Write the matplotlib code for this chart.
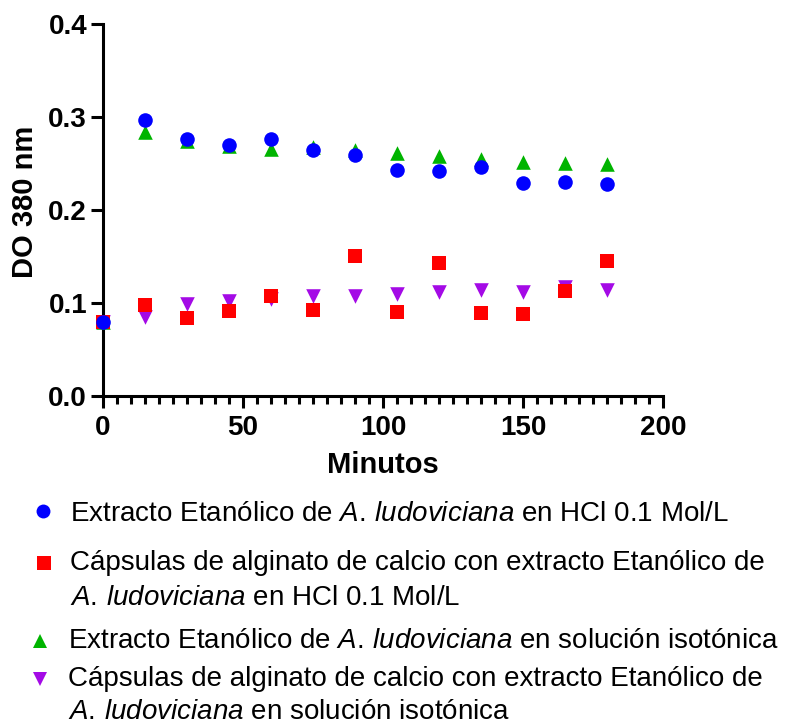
import matplotlib
matplotlib.use("Agg")
import matplotlib.pyplot as plt
from matplotlib.lines import Line2D
from matplotlib.ticker import MultipleLocator, FormatStrFormatter

plt.rcParams['font.family'] = ['Liberation Sans', 'DejaVu Sans']
plt.rcParams['mathtext.fontset'] = 'custom'
plt.rcParams['mathtext.rm'] = 'Liberation Sans'
plt.rcParams['mathtext.it'] = 'Liberation Sans:italic'

# minutes
minutos = [0, 15, 30, 45, 60, 75, 90, 105, 120, 135, 150, 165, 180]

# DO 380 nm
extracto_hcl = [0.080, 0.297, 0.276, 0.270, 0.276, 0.264, 0.259, 0.243, 0.242, 0.246, 0.229, 0.230, 0.228]
capsulas_hcl = [0.080, 0.098, 0.084, 0.091, 0.107, 0.092, 0.151, 0.090, 0.143, 0.089, 0.088, 0.113, 0.145]
extracto_iso = [0.080, 0.284, 0.274, 0.269, 0.266, 0.268, 0.265, 0.261, 0.258, 0.255, 0.252, 0.250, 0.249]
capsulas_iso = [0.080, 0.085, 0.099, 0.102, 0.104, 0.107, 0.107, 0.110, 0.112, 0.114, 0.112, 0.117, 0.114]

# legend text, one list of lines per series
sp = r'$\mathit{A.\,ludoviciana}$'
leyenda = [
    ['Extracto Etanólico de ' + sp + ' en HCl 0.1 Mol/L'],
    ['Cápsulas de alginato de calcio con extracto Etanólico de',
     sp + ' en HCl 0.1 Mol/L'],
    ['Extracto Etanólico de ' + sp + ' en solución isotónica'],
    ['Cápsulas de alginato de calcio con extracto Etanólico de',
     sp + ' en solución isotónica'],
]

azul, rojo, verde, morado = '#0000ff', '#ff0000', '#00b400', '#a40ae6'

W, H = 787, 726
fig = plt.figure(figsize=(W / 100, H / 100), dpi=100)
ax = fig.add_axes([103 / W, 1 - 396 / H, 560 / W, 372 / H])

ax.scatter(minutos, extracto_iso, marker='^', s=110, color=verde, linewidths=0, clip_on=False, zorder=3)
ax.scatter(minutos, capsulas_iso, marker='v', s=110, color=morado, linewidths=0, clip_on=False, zorder=3)
ax.scatter(minutos, capsulas_hcl, marker='s', s=100, color=rojo, linewidths=0, clip_on=False, zorder=4)
ax.scatter(minutos, extracto_hcl, marker='o', s=110, color=azul, linewidths=0, clip_on=False, zorder=5)

ax.set_xlim(0, 200)
ax.set_ylim(0, 0.4)
ax.xaxis.set_major_locator(MultipleLocator(50))
ax.xaxis.set_minor_locator(MultipleLocator(5))
ax.yaxis.set_major_locator(MultipleLocator(0.1))
ax.yaxis.set_major_formatter(FormatStrFormatter('%.1f'))

for s in ['top', 'right']:
    ax.spines[s].set_visible(False)
for s in ['left', 'bottom']:
    ax.spines[s].set_linewidth(2.2)
ax.tick_params(axis='both', which='major', length=8.5, width=2.2, labelsize=20, pad=3)
ax.tick_params(axis='x', which='major', pad=5)
ax.tick_params(axis='x', which='minor', length=5.5, width=2.2)
for lab in ax.get_xticklabels() + ax.get_yticklabels():
    lab.set_fontweight('bold')

ax.set_xlabel('Minutos', fontsize=21, fontweight='bold')
ax.set_ylabel('DO 380 nm', fontsize=21, fontweight='bold')
ax.xaxis.set_label_coords(0.5, -0.148)
ax.yaxis.set_label_coords(-0.114, 0.523)

# legend drawn by hand so the marker sits on the first line
simbolos = [('o', azul), ('s', rojo), ('^', verde), ('v', morado)]
marca_xy = [(43, 511), (44, 563), (40, 641), (40, 679)]
lineas_y = [[521], [570, 605], [648], [686, 719]]
texto_x = [70, 70, 68, 68]
for (m, c), (mx, my), ys, tx, lineas in zip(simbolos, marca_xy, lineas_y, texto_x, leyenda):
    fig.add_artist(Line2D([mx / W], [1 - my / H], transform=fig.transFigure, marker=m,
                          markersize=10, color=c, markeredgewidth=0, linestyle='none'))
    for y, t in zip(ys, lineas):
        fig.text(tx / W, 1 - y / H, t, fontsize=20, va='baseline', ha='left')

fig.savefig('out.png', dpi=100)
